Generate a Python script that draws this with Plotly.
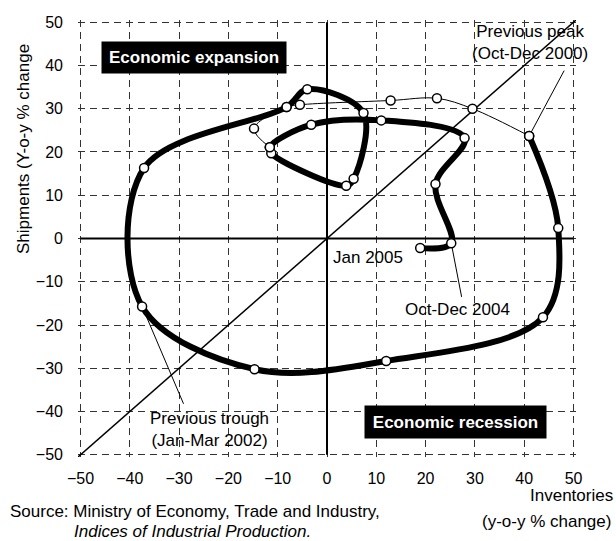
import plotly.graph_objects as go

# ---------------- data ----------------
# earlier period (thin line), ending at the previous peak
thin_x = [-11.6, -14.8, -8.2, -5.5, 12.9, 22.3, 29.5, 41.0]
thin_y = [21.1, 25.4, 30.4, 30.9, 31.9, 32.4, 30.0, 23.7]

# from the previous peak (Oct-Dec 2000) to Jan 2005 (thick line)
thick_x = [41.0, 46.9, 43.8, 12.0, -14.7, -37.5, -37.1, -8.2, -4.0, 7.4,
           5.4, 3.9, -11.3, -11.6, -3.2, 11.0, 27.9, 22.0, 25.2, 18.9]
thick_y = [23.7, 2.4, -18.2, -28.3, -30.2, -15.7, 16.3, 30.4, 34.5, 29.0,
           13.8, 12.2, 19.7, 21.1, 26.3, 27.3, 23.2, 12.6, -1.1, -2.2]

tick_vals = [-50, -40, -30, -20, -10, 0, 10, 20, 30, 40, 50]
axis_lo, axis_hi = -50, 50
diag = [-51.2, 51.2]

# leader lines: [label end, data point]
peak_leader_x = [48.1, 41.0]
peak_leader_y = [38.8, 23.7]
trough_leader_x = [-29.1, -37.5]
trough_leader_y = [-38.2, -15.7]
dec04_leader_x = [27.3, 25.2]
dec04_leader_y = [-13.5, -1.1]

FONT = "Liberation Sans, Arial, sans-serif"

# layout geometry (pixels)
W, H = 616, 541
ML, MR, MT, MB = 78, 40, 20, 84
PW, PH = W - ML - MR, H - MT - MB


def px(x):
    return (x - ML) / PW


def py(y):
    return (H - MB - y) / PH


fig = go.Figure()

# diagonal 45-degree line
fig.add_trace(go.Scatter(x=diag, y=diag, mode="lines",
                         line=dict(color="black", width=1.5),
                         hoverinfo="skip", showlegend=False))
# zero axes
fig.add_trace(go.Scatter(x=[axis_lo, axis_hi], y=[0, 0], mode="lines",
                         line=dict(color="black", width=2),
                         hoverinfo="skip", showlegend=False))
fig.add_trace(go.Scatter(x=[0, 0], y=[axis_lo, axis_hi], mode="lines",
                         line=dict(color="black", width=2),
                         hoverinfo="skip", showlegend=False))
# leader lines
for lx, ly in [(peak_leader_x, peak_leader_y),
               (trough_leader_x, trough_leader_y),
               (dec04_leader_x, dec04_leader_y)]:
    fig.add_trace(go.Scatter(x=lx, y=ly, mode="lines",
                             line=dict(color="black", width=1),
                             hoverinfo="skip", showlegend=False))

# loops
fig.add_trace(go.Scatter(x=thin_x, y=thin_y, mode="lines",
                         line=dict(color="black", width=1, shape="spline", smoothing=1),
                         showlegend=False))
fig.add_trace(go.Scatter(x=thick_x, y=thick_y, mode="lines",
                         line=dict(color="black", width=6, shape="spline", smoothing=1),
                         showlegend=False))
marker = dict(symbol="circle", size=9, color="white",
              line=dict(color="black", width=1.5))
fig.add_trace(go.Scatter(x=thin_x, y=thin_y, mode="markers", marker=marker,
                         showlegend=False))
fig.add_trace(go.Scatter(x=thick_x, y=thick_y, mode="markers", marker=marker,
                         showlegend=False))

axis_common = dict(range=[-50.5, 50.5], tickvals=tick_vals, ticks="",
                   showgrid=True, gridcolor="#333333", gridwidth=1,
                   griddash="7px,5px", zeroline=False, showline=False,
                   tickfont=dict(family=FONT, size=16, color="black"),
                   fixedrange=True)

annotations = [
    dict(text="<b>Economic expansion</b>", x=-26.9, y=41.8, xref="x", yref="y",
         showarrow=False, bgcolor="black", font=dict(family=FONT, size=17, color="white"),
         width=178, height=25, borderpad=3),
    dict(text="<b>Economic recession</b>", x=26.1, y=-42.5, xref="x", yref="y",
         showarrow=False, bgcolor="black", font=dict(family=FONT, size=17, color="white"),
         width=175, height=26, borderpad=3),
    dict(text="Previous peak<br>(Oct-Dec 2000)", x=41.1, y=45.2, xref="x", yref="y",
         showarrow=False, font=dict(family=FONT, size=17, color="black")),
    dict(text="Previous trough<br>(Jan-Mar 2002)", x=-23.8, y=-44.1, xref="x", yref="y",
         showarrow=False, font=dict(family=FONT, size=17, color="black")),
    dict(text="Oct-Dec 2004", x=26.4, y=-16.3, xref="x", yref="y",
         showarrow=False, font=dict(family=FONT, size=17, color="black")),
    dict(text="Jan 2005", x=8.3, y=-4.4, xref="x", yref="y",
         showarrow=False, font=dict(family=FONT, size=17, color="black")),
    dict(text="Shipments (Y-o-y % change", textangle=-90, x=px(23), y=py(149),
         xref="paper", yref="paper", xanchor="center", yanchor="middle",
         showarrow=False, font=dict(family=FONT, size=17, color="black")),
    dict(text="Source: Ministry of Economy, Trade and Industry,", x=px(8), y=py(511),
         xref="paper", yref="paper", xanchor="left", yanchor="middle",
         showarrow=False, font=dict(family=FONT, size=17, color="black")),
    dict(text="<i>Indices of Industrial Production.</i>", x=px(72), y=py(531),
         xref="paper", yref="paper", xanchor="left", yanchor="middle",
         showarrow=False, font=dict(family=FONT, size=17, color="black")),
    dict(text="Inventories", x=px(615), y=py(495),
         xref="paper", yref="paper", xanchor="right", yanchor="middle",
         showarrow=False, font=dict(family=FONT, size=17, color="black")),
    dict(text="(y-o-y % change)", x=px(613), y=py(521),
         xref="paper", yref="paper", xanchor="right", yanchor="middle",
         showarrow=False, font=dict(family=FONT, size=17, color="black")),
]

fig.update_layout(
    width=W, height=H,
    margin=dict(l=ML, r=MR, t=MT, b=MB, pad=0),
    paper_bgcolor="white", plot_bgcolor="white",
    xaxis=dict(axis_common, ticklabelstandoff=10),
    yaxis=dict(axis_common, ticklabelstandoff=14),
    annotations=annotations,
    showlegend=False,
    hovermode=False,
    font=dict(family=FONT, color="black"),
)

fig.write_html("out.html",
               config={"displayModeBar": False, "staticPlot": True},
               post_script="document.body.style.margin='0';"
                           "document.body.style.overflow='hidden';")
